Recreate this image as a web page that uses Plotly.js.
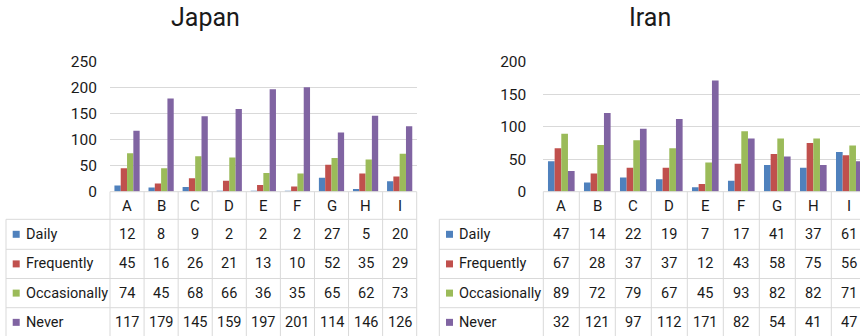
<!DOCTYPE html>
<html>
<head>
<meta charset="utf-8">
<script src="https://cdn.plot.ly/plotly-3.0.1.min.js"></script>
<style>
  html, body { margin: 0; padding: 0; background: #fff; }
  #chart { width: 860px; height: 336px; }
</style>
</head>
<body>
<div id="chart"></div>
<script>
// Categories and series
const categories = ['A', 'B', 'C', 'D', 'E', 'F', 'G', 'H', 'I'];
const seriesNames = ['Daily', 'Frequently', 'Occasionally', 'Never'];
const seriesColors = ['#4F81BD', '#C0504D', '#9BBB59', '#8064A2'];

// Japan
const japanDaily = [12, 8, 9, 2, 2, 2, 27, 5, 20];
const japanFrequently = [45, 16, 26, 21, 13, 10, 52, 35, 29];
const japanOccasionally = [74, 45, 68, 66, 36, 35, 65, 62, 73];
const japanNever = [117, 179, 145, 159, 197, 201, 114, 146, 126];

// Iran
const iranDaily = [47, 14, 22, 19, 7, 17, 41, 37, 61];
const iranFrequently = [67, 28, 37, 37, 12, 43, 58, 75, 56];
const iranOccasionally = [89, 72, 79, 67, 45, 93, 82, 82, 71];
const iranNever = [32, 121, 97, 112, 171, 82, 54, 41, 47];

const japanTicks = [0, 50, 100, 150, 200, 250];
const iranTicks = [0, 50, 100, 150, 200];

// Page geometry (pixels)
const W = 860, H = 336;
const FONT = 'Roboto, Arial, sans-serif';
const TEXT = '#1a1a1a';
const LINE = '#D9D9D9';
const py = px => 1 - px / H;      // pixel row -> paper y
const pxX = px => px / W;         // pixel column -> paper x

const plotTop = 61.7, plotBottom = 191.7;
const rowBounds = [191.7, 219.3, 249.3, 278.5, 307.7, 340];

const panels = [
  { name: 'Japan', xa: 'x', ya: 'y', data: [japanDaily, japanFrequently, japanOccasionally, japanNever],
    tableLeft: 6, plotLeft: 110, plotRight: 416.7, xRange: [-0.5, 8.5], yRange: [0, 250], ticks: japanTicks,
    standoff: 12, titleX: 205, keyX: 12.7, labelX: 24 },
  { name: 'Iran', xa: 'x2', ya: 'y2', data: [iranDaily, iranFrequently, iranOccasionally, iranNever],
    tableLeft: 439.3, plotLeft: 543.3, plotRight: 860, xRange: [-0.5, 8.297], yRange: [0, 200], ticks: iranTicks,
    standoff: 16, titleX: 650, keyX: 446, labelX: 456.5 }
];

const traces = [];
const shapes = [];
const annotations = [];
const layout = {
  width: W, height: H,
  margin: { l: 0, r: 0, t: 0, b: 0, pad: 0 },
  paper_bgcolor: '#fff', plot_bgcolor: '#fff',
  barmode: 'group', bargap: 0.26, bargroupgap: 0,
  showlegend: false,
  font: { family: FONT, color: TEXT, size: 14 },
  shapes: shapes, annotations: annotations
};

const hline = (x0, x1, yPx, xref) => ({
  type: 'line', xref: xref || 'paper', yref: 'paper',
  x0: x0, x1: x1, y0: py(yPx), y1: py(yPx), line: { color: LINE, width: 1 }, layer: 'above'
});
const vline = (x, xref, yTopPx) => ({
  type: 'line', xref: xref, yref: 'paper',
  x0: x, x1: x, y0: py(yTopPx), y1: py(rowBounds[rowBounds.length - 1]), line: { color: LINE, width: 1 }, layer: 'above'
});

panels.forEach(p => {
  const axSuffix = p.xa === 'x' ? '' : '2';

  // bars
  seriesNames.forEach((s, i) => {
    traces.push({
      type: 'bar', name: s, x: categories, y: p.data[i],
      xaxis: p.xa, yaxis: p.ya,
      marker: { color: seriesColors[i], line: { width: 0 } },
      hoverinfo: 'x+y+name'
    });
  });

  layout['xaxis' + axSuffix] = {
    domain: [pxX(p.plotLeft), Math.min(1, pxX(p.plotRight))],
    range: p.xRange, type: 'category', anchor: p.ya,
    showticklabels: false, showgrid: false, zeroline: false, showline: false, ticks: ''
  };
  layout['yaxis' + axSuffix] = {
    domain: [py(plotBottom), py(plotTop)],
    range: p.yRange, anchor: p.xa,
    tickvals: p.ticks, ticktext: p.ticks.map(String),
    showgrid: true, gridcolor: LINE, gridwidth: 1,
    zeroline: false, showline: false, ticks: '',
    ticklabelstandoff: p.standoff,
    tickfont: { family: FONT, size: 15.5, color: TEXT }
  };

  // title
  annotations.push({
    text: p.name, xref: 'paper', yref: 'paper', x: pxX(p.titleX), y: py(17),
    xanchor: 'center', yanchor: 'middle', showarrow: false,
    font: { family: FONT, size: 25, color: TEXT }
  });

  // data table grid
  const right = Math.min(1, pxX(p.plotRight));
  shapes.push(hline(pxX(p.plotLeft), right, rowBounds[0]));
  for (let r = 1; r < rowBounds.length - 1; r++) {
    shapes.push(hline(pxX(p.tableLeft), right, rowBounds[r]));
  }
  shapes.push(vline(pxX(p.tableLeft), 'paper', rowBounds[1]));
  shapes.push(vline(0, p.xa + ' domain', rowBounds[0]));
  for (let c = 0; c < categories.length - 1; c++) {
    shapes.push(vline(c + 0.5, p.xa, rowBounds[0]));
  }
  if (p.plotRight <= W - 1) shapes.push(vline(1, p.xa + ' domain', rowBounds[0]));

  // category header
  categories.forEach((cat, c) => {
    annotations.push({
      text: cat, xref: p.xa, yref: 'paper', x: c,
      y: py((rowBounds[0] + rowBounds[1]) / 2),
      xanchor: 'center', yanchor: 'middle', showarrow: false,
      font: { family: FONT, size: 15, color: TEXT }
    });
  });

  // series rows: key square, label and values
  seriesNames.forEach((s, i) => {
    const top = rowBounds[i + 1];
    const bottom = Math.min(rowBounds[i + 2], 336.5);
    const mid = (top + (i === 3 ? 337 : bottom)) / 2;
    shapes.push({
      type: 'rect', xref: 'paper', yref: 'paper',
      x0: pxX(p.keyX), x1: pxX(p.keyX + 7), y0: py(mid + 3.5), y1: py(mid - 3.5),
      fillcolor: seriesColors[i], line: { width: 0 }
    });
    annotations.push({
      text: s, xref: 'paper', yref: 'paper', x: pxX(p.labelX), y: py(mid),
      xanchor: 'left', yanchor: 'middle', showarrow: false,
      font: { family: FONT, size: 14.5, color: TEXT }
    });
    p.data[i].forEach((v, c) => {
      annotations.push({
        text: String(v), xref: p.xa, yref: 'paper', x: c, y: py(mid),
        xanchor: 'center', yanchor: 'middle', showarrow: false,
        font: { family: FONT, size: 14.5, color: TEXT }
      });
    });
  });
});

Plotly.newPlot('chart', traces, layout, { staticPlot: true, displayModeBar: false });
</script>
</body>
</html>
